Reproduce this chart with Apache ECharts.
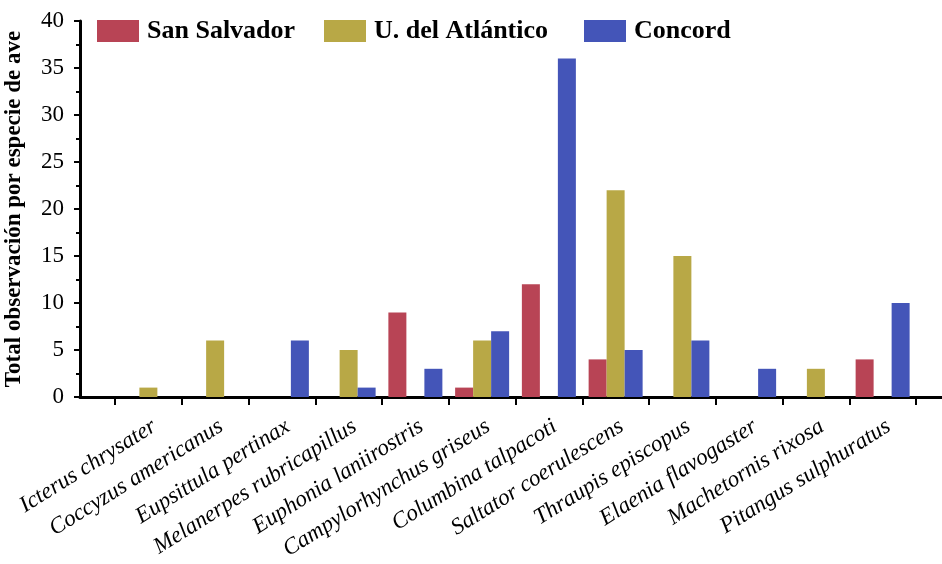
<!DOCTYPE html>
<html>
<head>
<meta charset="utf-8">
<script src="https://cdn.jsdelivr.net/npm/echarts@6/dist/echarts.min.js"></script>
<style>
  html, body { margin: 0; padding: 0; background: #fff; }
  #main { width: 942px; height: 564px; }
</style>
</head>
<body>
<div id="main"></div>
<script>
// especies (eje x)
var categories = [
  'Icterus chrysater', 'Coccyzus americanus', 'Eupsittula pertinax',
  'Melanerpes rubricapillus', 'Euphonia laniirostris', 'Campylorhynchus griseus',
  'Columbina talpacoti', 'Saltator coerulescens', 'Thraupis episcopus',
  'Elaenia flavogaster', 'Machetornis rixosa', 'Pitangus sulphuratus'
];

// observaciones por sitio
var sanSalvador = [0, 0, 0, 0, 9, 1, 12, 4, 0, 0, 0, 4];
var delAtlantico = [1, 6, 0, 5, 0, 6, 0, 22, 15, 0, 3, 0];
var concord = [0, 0, 6, 1, 3, 7, 36, 5, 6, 3, 0, 10];

var seriesNames = ['San Salvador', 'U. del Atlántico', 'Concord'];
var colors = ['#B84455', '#B8A846', '#4455B8'];

var font = 'Liberation Serif';

var myChart = echarts.init(document.getElementById('main'));

function legendAt(name, left) {
  return {
    data: [name],
    left: left,
    top: 18,
    padding: 0,
    icon: 'rect',
    itemWidth: 42,
    itemHeight: 22,
    textStyle: {
      fontFamily: font,
      fontWeight: 'bold',
      fontSize: 26,
      color: '#000',
      padding: [0, 0, 0, 3]
    }
  };
}

var option = {
  animation: false,
  backgroundColor: '#fff',
  legend: [
    legendAt(seriesNames[0], 97),
    legendAt(seriesNames[1], 324),
    legendAt(seriesNames[2], 584)
  ],
  grid: [
    // marco de ejes
    { left: 80, right: 0, top: 21, bottom: 167, outerBoundsMode: 'none' },
    // barras
    { left: 115, right: 26, top: 21, bottom: 167, outerBoundsMode: 'none' }
  ],
  xAxis: [
    {
      gridIndex: 0,
      type: 'value',
      min: 0,
      max: 1,
      axisLine: { show: true, onZero: false, lineStyle: { color: '#000', width: 3 } },
      axisTick: { show: false },
      axisLabel: { show: false },
      splitLine: { show: false }
    },
    {
      gridIndex: 1,
      type: 'category',
      data: categories,
      axisLine: { show: false },
      axisTick: {
        show: true,
        length: 8,
        lineStyle: { color: '#000', width: 2 }
      },
      axisLabel: {
        interval: 0,
        rotate: 32,
        margin: 18,
        align: 'right',
        verticalAlign: 'top',
        fontFamily: font,
        fontStyle: 'italic',
        fontSize: 23,
        color: '#000'
      }
    }
  ],
  yAxis: [
    {
      gridIndex: 0,
      type: 'value',
      min: 0,
      max: 40,
      interval: 5,
      name: 'Total observación por especie de ave',
      nameLocation: 'middle',
      nameGap: 54,
      nameTextStyle: {
        fontFamily: font,
        fontWeight: 'bold',
        fontSize: 23,
        color: '#000'
      },
      axisLine: { show: true, lineStyle: { color: '#000', width: 3 } },
      axisTick: { show: true, length: 6, lineStyle: { color: '#000', width: 2 } },
      minorTick: { show: true, splitNumber: 2, length: 4, lineStyle: { color: '#000', width: 2 } },
      axisLabel: {
        margin: 16,
        fontFamily: font,
        fontSize: 23,
        color: '#000'
      },
      splitLine: { show: false }
    },
    {
      gridIndex: 1,
      type: 'value',
      min: 0,
      max: 40,
      show: false
    }
  ],
  series: [sanSalvador, delAtlantico, concord].map(function (values, i) {
    return {
      name: seriesNames[i],
      type: 'bar',
      xAxisIndex: 1,
      yAxisIndex: 1,
      data: values,
      barWidth: 18,
      barGap: '0%',
      itemStyle: { color: colors[i] }
    };
  })
};

myChart.setOption(option);
</script>
</body>
</html>
